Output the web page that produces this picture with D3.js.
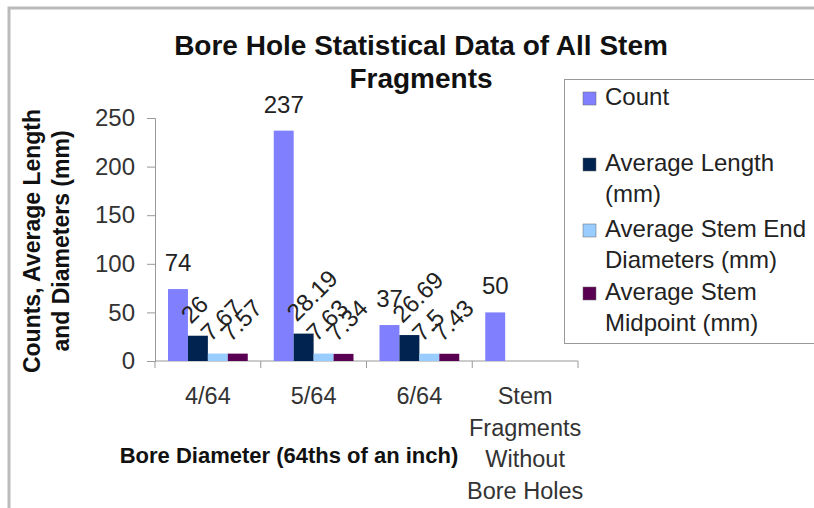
<!DOCTYPE html>
<html>
<head>
<meta charset="utf-8">
<script src="https://cdn.jsdelivr.net/npm/d3@7"></script>
<style>
  html, body { margin: 0; padding: 0; background: #fff; }
  svg { display: block; font-family: "Liberation Sans", Arial, sans-serif; }
</style>
</head>
<body>
<div id="chart"></div>
<script>
// data
const categories = ["4/64", "5/64", "6/64", "Stem Fragments Without Bore Holes"];
const categoryLines = [["4/64"], ["5/64"], ["6/64"], ["Stem", "Fragments", "Without", "Bore Holes"]];
const seriesNames = ["Count", "Average Length (mm)", "Average Stem End Diameters (mm)", "Average Stem Midpoint (mm)"];
const legendLines = [["Count"], ["Average Length", "(mm)"], ["Average Stem End", "Diameters (mm)"], ["Average Stem", "Midpoint (mm)"]];
const countValues = [74, 237, 37, 50];
const avgLengthValues = [26, 28.19, 26.69, null];
const stemEndValues = [7.67, 7.63, 7.5, null];
const stemMidValues = [7.57, 7.34, 7.43, null];
const yTicks = [0, 50, 100, 150, 200, 250];
const colors = ["#8080ff", "#00234f", "#99ccff", "#5a0052"];

const allSeries = [countValues, avgLengthValues, stemEndValues, stemMidValues];

const width = 814, height = 508;
const margin = {top: 118, left: 155, bottom: 147, right: 236};

const svg = d3.select("#chart").append("svg")
    .attr("width", width)
    .attr("height", height);

// outer frame (only top and left edges are visible)
svg.append("path")
    .attr("d", "M9,520 L9,8 L830,8")
    .attr("fill", "none")
    .attr("stroke", "#bbb")
    .attr("stroke-width", 3);

// title
const title = svg.append("text")
    .attr("text-anchor", "middle")
    .attr("font-weight", "bold")
    .attr("font-size", 28)
    .attr("fill", "#111");
title.append("tspan").attr("x", 421).attr("y", 55).text("Bore Hole Statistical Data of All Stem");
title.append("tspan").attr("x", 421).attr("y", 88).text("Fragments");

// scales
const x0 = d3.scaleBand()
    .domain(categories)
    .range([margin.left, width - margin.right]);

const x1 = d3.scaleBand()
    .domain(d3.range(seriesNames.length))
    .range([13, x0.bandwidth() - 13]);

const y = d3.scaleLinear()
    .domain([0, 250])
    .range([height - margin.bottom, margin.top]);

// y axis
const yAxis = svg.append("g")
    .attr("transform", `translate(${margin.left},0)`)
    .call(d3.axisLeft(y).tickValues(yTicks).tickSize(8).tickPadding(12));
yAxis.select(".domain").attr("stroke", "#999");
yAxis.selectAll(".tick line").attr("stroke", "#999");
yAxis.selectAll(".tick text")
    .attr("font-size", 24)
    .attr("font-family", "Liberation Sans, Arial, sans-serif")
    .attr("fill", "#333");

// x axis: line with ticks at band edges
const xAxis = svg.append("g");
xAxis.append("line")
    .attr("x1", x0.range()[0]).attr("x2", x0.range()[1])
    .attr("y1", y(0)).attr("y2", y(0))
    .attr("stroke", "#999");
const edges = categories.map(c => x0(c)).concat([x0.range()[1]]);
xAxis.selectAll(".xtick")
    .data(edges)
    .enter().append("line")
    .attr("class", "xtick")
    .attr("x1", d => d).attr("x2", d => d)
    .attr("y1", y(0)).attr("y2", y(0) + 7)
    .attr("stroke", "#999");

xAxis.selectAll(".xlabel")
    .data(categories)
    .enter().append("text")
    .attr("class", "xlabel")
    .attr("text-anchor", "middle")
    .attr("font-size", 23.5)
    .attr("fill", "#333")
    .each(function (d, i) {
        const t = d3.select(this);
        categoryLines[i].forEach((line, j) => {
            t.append("tspan")
                .attr("x", x0(d) + x0.bandwidth() / 2)
                .attr("y", 404 + j * 31.5)
                .text(line);
        });
    });

// bars
const groups = svg.selectAll(".cat")
    .data(categories)
    .enter().append("g")
    .attr("class", "cat")
    .attr("transform", d => `translate(${x0(d)},0)`);

groups.each(function (cat, ci) {
    const g = d3.select(this);
    const vals = allSeries.map((s, si) => ({si: si, v: s[ci]})).filter(d => d.v != null);

    g.selectAll("rect")
        .data(vals)
        .enter().append("rect")
        .attr("x", d => x1(d.si))
        .attr("y", d => y(d.v))
        .attr("width", x1.bandwidth())
        .attr("height", d => y(0) - y(d.v))
        .attr("fill", d => colors[d.si]);

    // value labels: count horizontal, the others rotated
    g.selectAll("text")
        .data(vals)
        .enter().append("text")
        .attr("font-size", 24)
        .attr("fill", "#222")
        .attr("text-anchor", d => d.si === 0 ? "middle" : "start")
        .attr("transform", d => {
            const cx = x1(d.si) + x1.bandwidth() / 2;
            if (d.si === 0) return `translate(${cx},${y(d.v) - 18})`;
            return `translate(${cx - 7},${y(d.v) - 11}) rotate(-45)`;
        })
        .text(d => String(d.v));
});

// axis titles
const yTitle = svg.append("text")
    .attr("transform", "translate(0,241) rotate(-90)")
    .attr("text-anchor", "middle")
    .attr("font-weight", "bold")
    .attr("font-size", 23)
    .attr("fill", "#111");
yTitle.append("tspan").attr("x", 0).attr("y", 40).text("Counts, Average Length");
yTitle.append("tspan").attr("x", 0).attr("y", 69).text("and Diameters (mm)");

svg.append("text")
    .attr("x", 289)
    .attr("y", 463)
    .attr("text-anchor", "middle")
    .attr("font-weight", "bold")
    .attr("font-size", 22)
    .attr("fill", "#111")
    .text("Bore Diameter (64ths of an inch)");

// legend
const legend = svg.append("g");
legend.append("rect")
    .attr("x", 564.5).attr("y", 79.5)
    .attr("width", 300).attr("height", 264)
    .attr("fill", "#fff")
    .attr("stroke", "#999");

const legendY = [105, 171, 237, 300];
const items = legend.selectAll(".item")
    .data(seriesNames)
    .enter().append("g")
    .attr("class", "item")
    .attr("transform", (d, i) => `translate(583,${legendY[i]})`);

items.append("rect")
    .attr("x", 0).attr("y", -13)
    .attr("width", 13).attr("height", 13)
    .attr("fill", (d, i) => colors[i])
    .attr("stroke", "#666")
    .attr("stroke-width", 0.5);

items.append("text")
    .attr("font-size", 24)
    .attr("fill", "#222")
    .each(function (d, i) {
        const t = d3.select(this);
        legendLines[i].forEach((line, j) => {
            t.append("tspan").attr("x", 22).attr("y", j * 31).text(line);
        });
    });
</script>
</body>
</html>
